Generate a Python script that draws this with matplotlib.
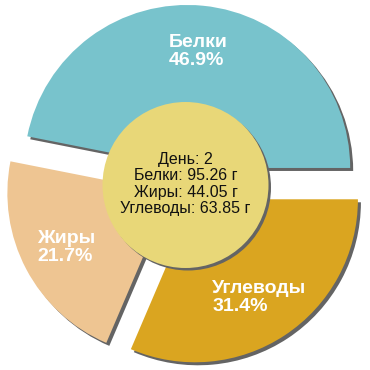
import matplotlib
matplotlib.use("Agg")
import matplotlib.pyplot as plt
from matplotlib.patches import Circle
import numpy as np

labels = ['Белки', 'Жиры', 'Углеводы']
grams = [95.26, 44.05, 63.85]
colors = ['#78C3CC', '#EEC592', '#DAA520']
day = 2

total = sum(grams)
percents = [g / total * 100 for g in grams]

fig = plt.figure(figsize=(3.7, 3.7), dpi=100)
ax = fig.add_axes([0, 0, 1, 1])

cx, cy = 185.5, 185.0
R = 163
explode = [0.105 * R] * 3
shadow = '#646464'

# shadow pie
ax.pie(grams, colors=[shadow] * 3, startangle=0, counterclock=True, radius=R,
       center=(cx + 3, cy - 3), explode=explode, wedgeprops=dict(linewidth=0))
wedges, _ = ax.pie(grams, colors=colors, startangle=0, counterclock=True, radius=R,
                   center=(cx, cy), explode=explode, wedgeprops=dict(linewidth=0))

for w, lab, p in zip(wedges, labels, percents):
    th = np.deg2rad((w.theta1 + w.theta2) / 2)
    x0, y0 = w.center
    tx = x0 + 0.72 * R * np.cos(th)
    ty = y0 + 0.72 * R * np.sin(th)
    ax.text(tx, ty, f"{lab}\n{p:.1f}%", ha='center', va='center', multialignment='left',
            color='white', fontsize=14, fontweight='bold', family='Liberation Sans',
            linespacing=1.1)

# center circle
r_in = 83
ax.add_patch(Circle((cx + 2.5, cy - 2.5), r_in, color=shadow, lw=0))
ax.add_patch(Circle((cx, cy), r_in, color='#E8D778', lw=0))
center_text = f"День: {day}\n" + "\n".join(f"{l}: {g:.2f} г" for l, g in zip(labels, grams))
ax.text(cx, cy + 1, center_text, ha='center', va='center', fontsize=11.5,
        family='Liberation Sans', color='#111111', linespacing=1.1)

ax.set_xlim(0, 370)
ax.set_ylim(0, 370)
ax.set_aspect('equal')
ax.axis('off')
fig.savefig('out.png', dpi=100)
